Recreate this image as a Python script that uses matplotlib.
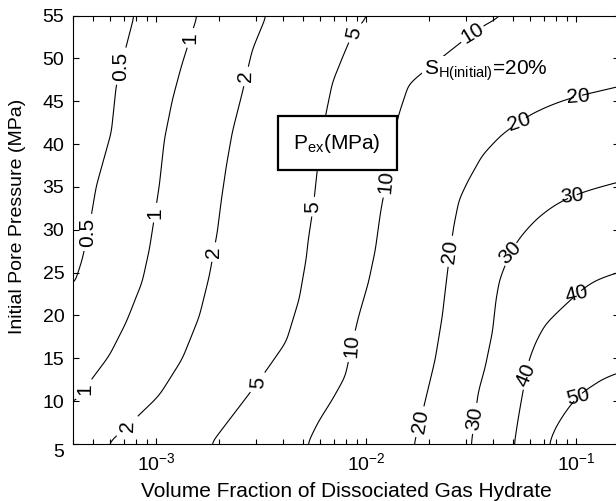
import numpy as np
import matplotlib
matplotlib.use('Agg')
import matplotlib.pyplot as plt
from matplotlib.ticker import NullFormatter

plt.rcParams['font.family'] = 'Liberation Sans'
plt.rcParams['mathtext.fontset'] = 'custom'
plt.rcParams['mathtext.rm'] = 'Liberation Sans'
plt.rcParams['mathtext.it'] = 'Liberation Sans:italic'
plt.rcParams['mathtext.bf'] = 'Liberation Sans:bold'

levels = [0.5, 1, 2, 5, 10, 20, 30, 40, 50]

# contour lines: pore pressure (MPa) and volume fraction
p_05 = [55, 47.0, 41.4, 35.1, 31.6, 26.6, 23.1]
x_05 = [7.85e-4, 6.46e-4, 6.11e-4, 5.18e-4, 4.90e-4, 4.45e-4, 4.0e-4]

p_1 = [55, 49.1, 45.2, 40.6, 35.1, 27.7, 23.9, 19.2, 15.3, 12.2, 10.0, 9.7]
x_1 = [1.567e-3, 1.315e-3, 1.191e-3, 1.091e-3, 1.033e-3, 0.927e-3, 0.857e-3,
       0.719e-3, 0.597e-3, 0.480e-3, 0.416e-3, 0.40e-3]

p_2 = [55, 51.0, 46.0, 41.4, 37.4, 33.6, 29.7, 24.6, 19.9, 14.9, 10.6, 7.6, 5]
x_2 = [3.342e-3, 2.864e-3, 2.570e-3, 2.301e-3, 2.153e-3, 2.042e-3, 1.950e-3,
       1.786e-3, 1.603e-3, 1.330e-3, 1.033e-3, 0.769e-3, 0.585e-3]

p_5 = [55, 53.0, 50.2, 47.2, 43.2, 37.1, 32.7, 28.9, 26.6, 21.9, 16.9, 12.2, 9.4, 5]
x_5 = [1.012e-2, 8.57e-3, 7.69e-3, 6.89e-3, 6.38e-3, 5.85e-3, 5.60e-3,
       5.30e-3, 5.18e-3, 4.80e-3, 4.16e-3, 3.03e-3, 2.48e-3, 1.81e-3]

p_10 = [55, 54.2, 53.0, 47.3, 43.2, 37.1, 32.0, 27.7, 23.9, 19.9, 16.9, 12.9, 10.2, 7.6, 5]
x_10 = [4.59e-2, 3.77e-2, 3.20e-2, 1.585e-2, 1.406e-2, 1.274e-2, 1.167e-2, 1.104e-2,
        1.023e-2, 9.16e-3, 8.57e-3, 7.94e-3, 6.89e-3, 5.90e-3, 5.24e-3]

p_20 = [46.7, 46.0, 45.2, 43.7, 41.4, 39.0, 36.2, 33.6, 30.4, 25.8, 19.9, 14.9, 11.4, 7.6, 5]
x_20 = [0.16, 0.119, 0.0887, 0.0617, 0.0445, 0.0356, 0.0306, 0.0274, 0.0259,
        0.0245, 0.0230, 0.0213, 0.0197, 0.0181, 0.0169]

p_30 = [35.7, 34.7, 33.9, 33.2, 31.6, 29.7, 27.4, 24.2, 21.9, 18.1, 14.1, 11.1, 5]
x_30 = [0.16, 0.119, 0.0957, 0.0820, 0.0659, 0.0553, 0.0474, 0.0426, 0.0411,
        0.0398, 0.0369, 0.0341, 0.0316]

p_40 = [25.2, 23.9, 22.5, 21.0, 19.2, 17.2, 14.9, 11.1, 8.3, 5]
x_40 = [0.16, 0.119, 0.101, 0.0857, 0.0711, 0.0638, 0.0585, 0.0553, 0.0530, 0.0507]

p_50 = [13.6, 12.2, 10.6, 8.7, 6.8, 5]
x_50 = [0.16, 0.127, 0.102, 0.0887, 0.0794, 0.0743]

lines = {0.5: (p_05, x_05), 1: (p_1, x_1), 2: (p_2, x_2), 5: (p_5, x_5),
         10: (p_10, x_10), 20: (p_20, x_20), 30: (p_30, x_30),
         40: (p_40, x_40), 50: (p_50, x_50)}

# build a field row by row from where each line crosses that pressure
lx = np.linspace(np.log10(4e-4), np.log10(0.16), 500)
py = np.linspace(5, 55, 400)
Z = np.zeros((py.size, lx.size))
for i, p in enumerate(py):
    kx, kv, ki = [], [], []
    for j, lev in enumerate(levels):
        cp = np.array(lines[lev][0])
        cx = np.log10(lines[lev][1])
        o = np.argsort(cp)
        if cp.min() - 1e-9 <= p <= cp.max() + 1e-9:
            kx.append(np.interp(p, cp[o], cx[o]))
            kv.append(np.log10(lev))
            ki.append(j)
    kx = np.array(kx)
    kv = np.array(kv)
    lo = np.log10(levels[ki[0] - 1]) if ki[0] > 0 else kv[0] - 1
    hi = np.log10(levels[ki[-1] + 1]) if ki[-1] < len(levels) - 1 else kv[-1] + 1
    xl, xr = lx[0] - 0.01, lx[-1] + 0.01
    s0 = (kv[1] - kv[0]) / (kx[1] - kx[0])
    vl = np.clip(kv[0] + s0 * (xl - kx[0]), lo + 0.02, kv[0] - 1e-3)
    s1 = (kv[-1] - kv[-2]) / (kx[-1] - kx[-2])
    vr = np.clip(kv[-1] + s1 * (xr - kx[-1]), kv[-1] + 1e-3, hi - 0.02)
    Z[i] = np.interp(lx, np.r_[xl, kx, xr], np.r_[vl, kv, vr])


def blur(a, n, axis):
    k = np.ones(n) / n
    pad = [(0, 0), (0, 0)]
    pad[axis] = (n // 2, n // 2)
    ap = np.pad(a, pad, mode='edge')
    return np.apply_along_axis(lambda v: np.convolve(v, k, mode='valid'), axis, ap)


# soften the kinks between the read points
for _ in range(2):
    Z = blur(Z, 11, 0)
    Z = blur(Z, 7, 1)

label_pos = [(6.8e-4, 49.1), (4.96e-4, 29.7),
             (1.44e-3, 52.4), (1.01e-3, 32.0), (4.54e-4, 11.4),
             (2.71e-3, 47.9), (1.93e-3, 27.4), (6.9e-4, 7.1),
             (8.57e-3, 53.0), (5.6e-3, 32.7), (3.03e-3, 12.2),
             (3.2e-2, 53.0), (1.23e-2, 35.6), (8.57e-3, 16.4),
             (0.102, 45.6), (0.053, 42.9), (0.025, 27.5), (0.018, 7.6),
             (0.096, 33.9), (0.0474, 27.7), (0.0341, 7.9),
             (0.101, 22.5), (0.0585, 12.9),
             (0.102, 10.6)]

fig = plt.figure(figsize=(6.16, 5.01), dpi=100)
ax = fig.add_axes([0.118, 0.1138, 0.887, 0.855])

cs = ax.contour(10 ** lx, py, 10 ** Z, levels=levels, colors='k', linewidths=0.8)
ax.clabel(cs, fmt={lev: f'{lev:g}' for lev in levels}, manual=label_pos,
          inline=True, fontsize=15, inline_spacing=4)

ax.set_xscale('log')
ax.set_xlim(4e-4, 0.16)
ax.set_ylim(5, 55)
ax.set_yticks(range(5, 60, 5))
ax.xaxis.set_minor_formatter(NullFormatter())
ax.tick_params(which='both', direction='in', top=True, right=True, labelsize=14)
ax.tick_params(which='major', length=4.5, width=0.8, pad=6)
ax.tick_params(which='minor', length=3.6, width=0.8)
for s in ax.spines.values():
    s.set_linewidth(0.8)
ax.get_yticklabels()[0].set_verticalalignment('top')

ax.set_xlabel('Volume Fraction of Dissociated Gas Hydrate', fontsize=15)
ax.set_ylabel('Initial Pore Pressure (MPa)', fontsize=14)
ax.xaxis.set_label_coords(0.5, -0.089)
ax.yaxis.set_label_coords(-0.0855, 0.532)

ax.text(7.27e-3, 40.1, r'P$_{\mathrm{ex}}$(MPa)', fontsize=15, ha='center', va='center',
        zorder=5, bbox=dict(boxstyle='square,pad=0.75', fc='white', ec='k', lw=1.6))
ax.text(0.0189, 48.1, r'S$_{\mathrm{H(initial)}}$=20%', fontsize=15, ha='left',
        va='baseline', zorder=5,
        bbox=dict(boxstyle='square,pad=0.1', fc='white', ec='none'))

fig.savefig('out.png', dpi=100)
